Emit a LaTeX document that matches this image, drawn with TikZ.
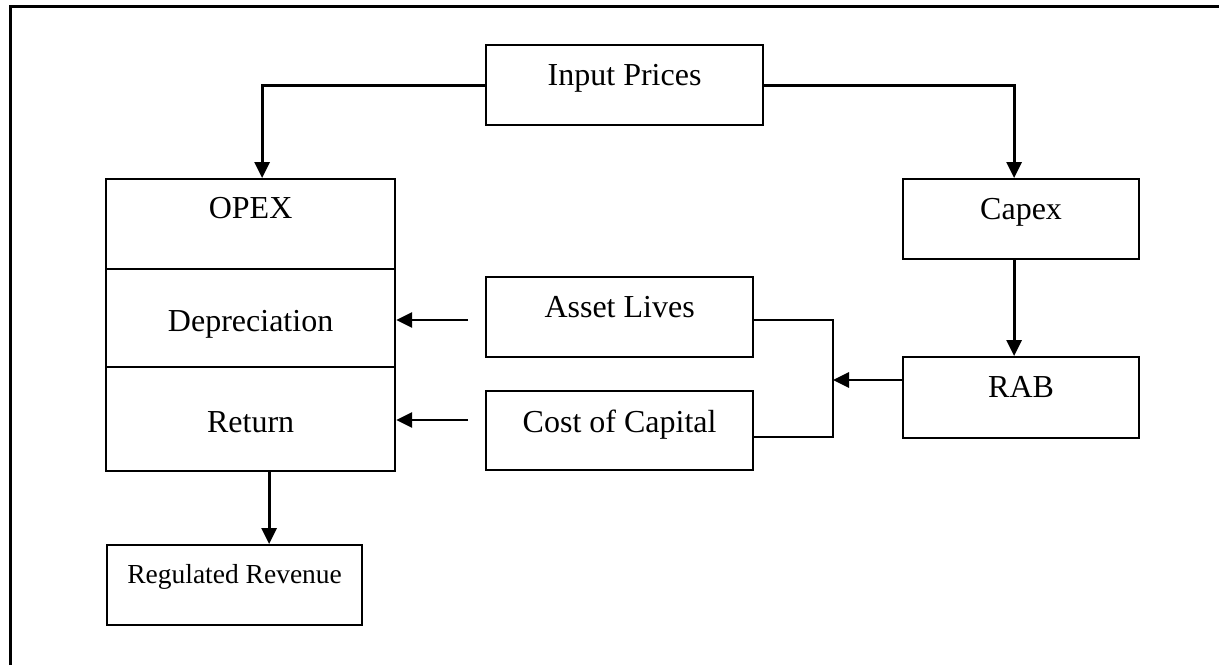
\documentclass[tikz,border=0pt]{standalone}
\usepackage{fontspec}
\setmainfont{Liberation Serif}
\usetikzlibrary{arrows.meta}
\begin{document}
\begin{tikzpicture}[x=1pt,y=-1pt,
  box/.style={draw,line width=2.2pt,inner xsep=0pt,inner ysep=0pt,text height=40pt,text depth=40pt,anchor=north west,font=\fontsize{32}{38}\selectfont},
  conn/.style={line width=2.4pt},
  arr/.style={line width=2.8pt,-{Triangle[length=16pt,width=15pt]}}]
\useasboundingbox (0,0) rectangle (1219,665);
% outer frame
\draw[line width=2.6pt] (10.5,665) -- (10.5,6.5) -- (1219,6.5);
% nodes
\node[box,minimum width=277pt] (ip) at (485,44) {Input Prices};
\node[box,minimum width=236pt] (capex) at (902,178) {Capex};
\node[box,minimum width=236pt,minimum height=81pt] (rab) at (902,356) {RAB};
\node[box,minimum width=267pt] (al) at (485,276) {Asset Lives};
\node[box,minimum width=267pt,text height=41pt,text depth=38pt] (cc) at (485,390) {Cost of Capital};
\node[box,minimum width=289pt,text height=39pt,text depth=51pt] (opex) at (105,178) {OPEX};
\node[box,minimum width=289pt,text height=62pt,text depth=36pt] (dep) at (105,268) {Depreciation};
\node[box,minimum width=289pt,text height=65pt,text depth=39pt] (ret) at (105,366) {Return};
\node[box,minimum width=255pt,text height=38pt,text depth=42pt,font=\fontsize{27.5}{33}\selectfont] (rr) at (106,544) {Regulated Revenue};
% junction and free ends
\coordinate (jn) at (833,380);
\coordinate (a1) at (468,320);
\coordinate (a2) at (468,420);
% connectors
\draw[arr] (ip.west) -| ([xshift=11.5pt]opex.north);
\draw[arr] (ip.east) -| ([xshift=-7pt]capex.north);
\draw[arr] ([xshift=-7pt]capex.south) -- ([xshift=-7pt]rab.north);
\draw[conn] ([yshift=-3pt]al.east) -| (jn) |- ([yshift=-6.5pt]cc.east);
\draw[arr] (rab.west |- jn) -- (jn);
\draw[arr] (a1) -- (a1 -| dep.east);
\draw[arr] (a2) -- (a2 -| ret.east);
\draw[arr] ([xshift=18.5pt]ret.south) -- ([xshift=34.5pt]rr.north);
\end{tikzpicture}
\end{document}
